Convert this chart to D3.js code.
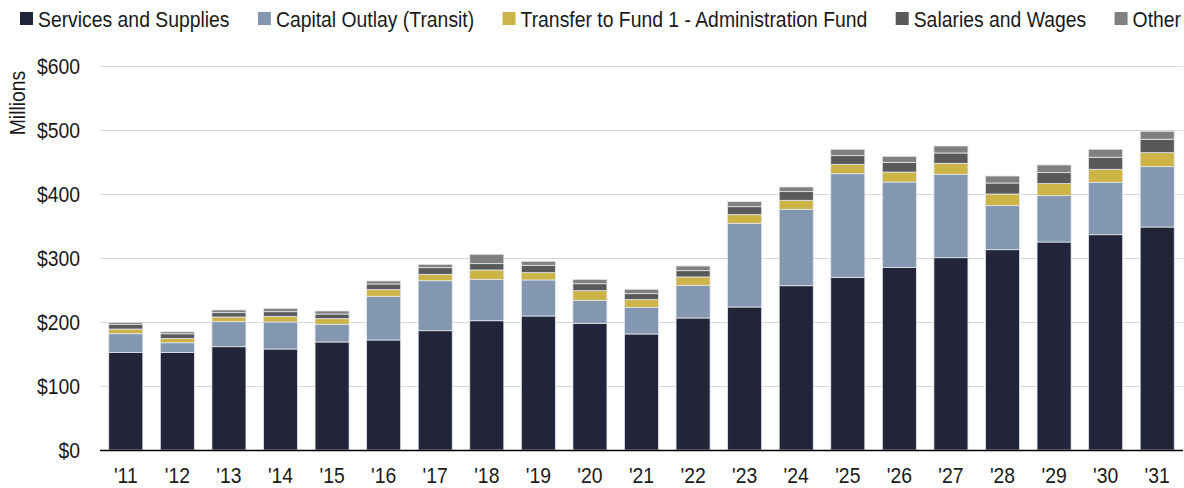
<!DOCTYPE html>
<html>
<head>
<meta charset="utf-8">
<script src="https://cdn.jsdelivr.net/npm/d3@7"></script>
<style>
  html, body { margin: 0; padding: 0; background: #fff; }
  svg { display: block; font-family: "Liberation Sans", Arial, sans-serif; }
</style>
</head>
<body>
<svg id="chart" width="1184" height="488"></svg>
<script>
const years = ["'11","'12","'13","'14","'15","'16","'17","'18","'19","'20","'21","'22","'23","'24","'25","'26","'27","'28","'29","'30","'31"];
const seriesNames = ["Services and Supplies","Capital Outlay (Transit)","Transfer to Fund 1 - Administration Fund","Salaries and Wages","Other"];
const servicesAndSupplies = [152.6,152.6,161.4,157.8,168.8,171.9,186.4,202.0,209.4,198.0,181.3,206.3,223.4,256.7,269.8,285.4,300.5,313.0,325.0,336.4,348.4];
const capitalOutlay       = [29.1,15.0,39.1,42.2,27.6,68.3,78.1,64.7,56.3,35.9,41.7,51.1,130.8,119.4,161.9,133.3,130.3,68.8,72.4,81.9,94.3];
const transferToFund1     = [7.3,6.8,7.3,8.9,8.8,10.3,10.0,14.6,11.4,15.0,11.9,13.0,13.5,14.1,14.7,15.6,17.2,18.2,18.8,20.3,21.9];
const salariesAndWages    = [7.3,7.2,6.8,7.2,7.3,8.9,10.4,9.9,11.5,10.9,9.4,9.8,12.5,13.5,13.5,15.1,16.1,17.2,17.2,18.8,20.9];
const other               = [3.1,3.1,4.2,5.2,4.7,4.7,5.2,14.6,6.3,6.8,6.8,7.3,7.8,7.3,10.0,9.4,10.9,10.9,12.0,12.5,12.5];
const yTicks = [0,100,200,300,400,500,600];
const colors = ["#222539","#8497b0","#ccb546","#595959","#808080"];

const seriesArrays = [servicesAndSupplies, capitalOutlay, transferToFund1, salariesAndWages, other];
const rows = years.map((y,i) => {
  const r = {year: y};
  seriesNames.forEach((n,k) => r[n] = seriesArrays[k][i]);
  return r;
});

const FS = 22, SX = 0.88, TXT = "#1a1a1a";
const svg = d3.select("#chart");
const margin = {left: 100, right: 1, top: 66, bottom: 38};
const W = 1184, H = 488;

const x = d3.scaleBand().domain(years).range([margin.left, W - margin.right]).paddingInner(0.34).paddingOuter(0.17);
const y = d3.scaleLinear().domain([0,600]).range([H - margin.bottom, margin.top]);

// gridlines
svg.append("g").selectAll("line").data(yTicks.filter(t => t > 0)).join("line")
  .attr("x1", margin.left).attr("x2", W - margin.right)
  .attr("y1", d => Math.round(y(d)) + 0.5).attr("y2", d => Math.round(y(d)) + 0.5)
  .attr("stroke", "#d9d9d9").attr("stroke-width", 1);

// y axis labels
const yAxis = d3.axisLeft(y).tickValues(yTicks).tickFormat(d => "$" + d).tickSize(0).tickPadding(0);
const yg = svg.append("g").attr("transform", `translate(80,0)`).call(yAxis);
yg.select(".domain").remove();
yg.selectAll("text").attr("font-size", FS).attr("fill", TXT).attr("font-family", "inherit")
  .attr("x", 0).attr("transform", `scale(${SX},1)`);

// Millions
svg.append("text").attr("transform", `translate(25,103) rotate(-90) scale(${SX},1)`)
  .attr("text-anchor", "middle").attr("font-size", FS).attr("fill", TXT).text("Millions");

// stacks
const stacked = d3.stack().keys(seriesNames)(rows);
svg.append("g").selectAll("g").data(stacked).join("g")
  .attr("fill", (d,i) => colors[i])
  .selectAll("rect").data(d => d).join("rect")
  .attr("x", d => x(d.data.year))
  .attr("width", x.bandwidth())
  .attr("y", d => y(d[1]))
  .attr("height", d => y(d[0]) - y(d[1]))
  .attr("stroke", "#e3e6ec").attr("stroke-width", 0.8);

// x axis
const xAxis = d3.axisBottom(x).tickSize(0).tickPadding(0);
const xg = svg.append("g").attr("transform", `translate(0,${y(0)})`).call(xAxis);
xg.select(".domain").attr("d", `M${margin.left},0.5H${W - margin.right}`).attr("stroke", "#000").attr("stroke-width", 1.5);
xg.selectAll("text").attr("font-size", FS).attr("fill", TXT).attr("font-family", "inherit")
  .attr("y", 33).attr("dy", 0).attr("transform", `scale(${SX},1)`);

// legend: items laid out between x=20 and x=1181
const SQ = 13, GAP_T = 5;
const lg = svg.append("g").selectAll("g").data(seriesNames).join("g");
lg.append("rect").attr("x", 0).attr("y", 12).attr("width", SQ).attr("height", SQ).attr("fill", (d,i) => colors[i]);
const lt = lg.append("text").attr("font-size", FS).attr("fill", TXT).text(d => d)
  .attr("transform", `translate(${SQ + GAP_T},27) scale(${SX},1)`);
const widths = [];
lt.each(function(){ widths.push(this.getComputedTextLength() * SX + SQ + GAP_T); });
const startX = 20, endX = 1181;
const total = d3.sum(widths);
const gap = (endX - startX - total) / (widths.length - 1);
let cx = startX;
const xs = widths.map(w => { const p = cx; cx += w + gap; return p; });
lg.attr("transform", (d,i) => `translate(${xs[i]},0)`);
</script>
</body>
</html>
